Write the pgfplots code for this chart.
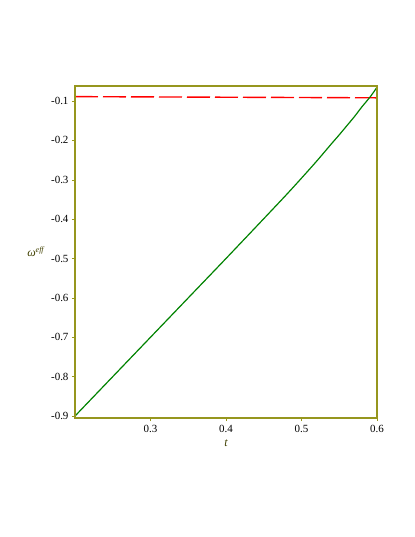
\documentclass[border=0pt]{standalone}
\usepackage{fontspec}
\setmainfont{Liberation Serif}
\usepackage{pgfplots}
\pgfplotsset{compat=1.18}
\definecolor{frameolive}{RGB}{150,150,30}
\definecolor{labelolive}{RGB}{64,64,0}
\definecolor{curvegreen}{RGB}{0,130,0}
\begin{document}
\begin{tikzpicture}
\useasboundingbox (-75bp,-119bp) rectangle (340bp,418bp);
\begin{axis}[
    at={(0,0)}, anchor=south west,
    width=302bp, height=332bp, scale only axis,
    xmin=0.2, xmax=0.6,
    ymin=-0.905, ymax=-0.062,
    xtick={0.3,0.4,0.5,0.6},
    ytick={-0.9,-0.8,-0.7,-0.6,-0.5,-0.4,-0.3,-0.2,-0.1},
    tick align=outside,
    major tick length=3bp,
    xtick pos=bottom, ytick pos=left,
    axis line style={draw=none},
    every tick/.style={frameolive, thin},
    /pgf/number format/assume math mode=true,
    /pgf/number format/fixed,
    /pgf/number format/precision=1,
    ticklabel style={font=\fontsize{11}{13}\selectfont, black},
    xticklabel style={yshift=-1bp},
    xlabel={\itshape t},
    ylabel={\itshape ω\textsuperscript{eff}},
    xlabel style={at={(axis description cs:0.5,-0.075)}, anchor=center, text=labelolive},
    ylabel style={rotate=-90, at={(axis description cs:-0.13,0.5)}, anchor=center, text=labelolive},
    label style={font=\fontsize{12}{14}\selectfont},
    clip mode=individual,
]
\addplot[red, line width=1.4pt, dash pattern=on 23bp off 5bp] coordinates {
    (0.2,-0.089) (0.6,-0.092)
};
\addplot[curvegreen, line width=1.2pt, smooth] coordinates {
    (0.2,-0.9) (0.25,-0.8) (0.3,-0.7) (0.35,-0.6) (0.4,-0.5)
    (0.45,-0.399) (0.48,-0.338) (0.5,-0.296) (0.52,-0.253)
    (0.54,-0.208) (0.55,-0.186) (0.56,-0.163) (0.57,-0.140)
    (0.58,-0.115) (0.59,-0.092) (0.595,-0.079) (0.6,-0.065)
};
\end{axis}
\draw[frameolive, line width=1.1pt] (0,0) rectangle (302bp,332bp);
\end{tikzpicture}
\end{document}
